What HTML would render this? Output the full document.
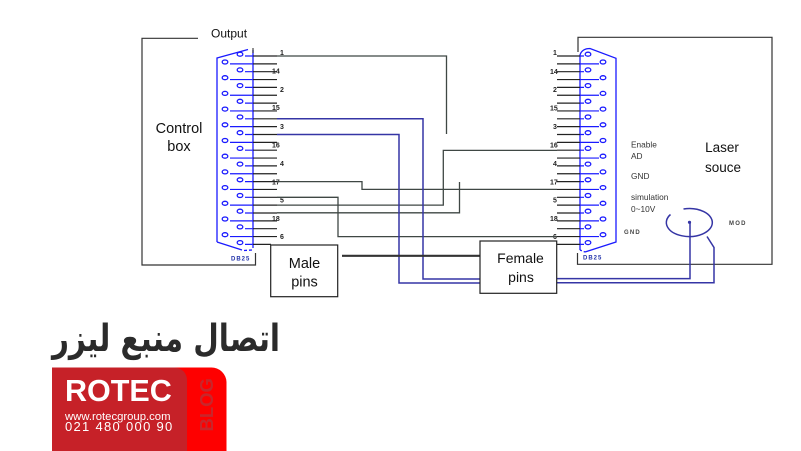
<!DOCTYPE html>
<html><head><meta charset="utf-8"><style>
html,body{margin:0;padding:0;background:#fff;}
body{width:801px;height:451px;position:relative;overflow:hidden;}
svg{position:absolute;left:0;top:0;}
.t{position:absolute;font-family:"DejaVu Sans",sans-serif;font-weight:bold;color:#2b2b2b;direction:rtl;white-space:nowrap;transform-origin:100% 0;}
</style></head><body>
<svg width="801" height="451" viewBox="0 0 801 451" xmlns="http://www.w3.org/2000/svg" font-family="Liberation Sans, sans-serif">
<rect width="801" height="451" fill="#fff"/>
<!-- control box -->
<path d="M198,38.3 L142,38.3 L142,265 L255.5,265 L255.5,253" fill="none" stroke="#333" stroke-width="1.2"/>
<text x="211" y="37.5" font-size="12" fill="#111">Output</text>
<text x="179" y="133" font-size="14.5" fill="#111" text-anchor="middle">Control</text>
<text x="179" y="151" font-size="14.5" fill="#111" text-anchor="middle">box</text>
<!-- laser box -->
<path d="M578,52 L578,37.3 L772,37.3 L772,264.3 L577.5,264.3 L577.5,253" fill="none" stroke="#333" stroke-width="1.2"/>
<text x="722" y="152" font-size="13.5" fill="#111" text-anchor="middle">Laser</text>
<text x="723" y="172" font-size="13.5" fill="#111" text-anchor="middle">souce</text>
<g font-size="8.3" fill="#333">
<text x="631" y="147.5">Enable</text>
<text x="631" y="159">AD</text>
<text x="631" y="179">GND</text>
<text x="631" y="200">simulation</text>
<text x="631" y="212">0~10V</text>
</g>
<g font-size="6" font-weight="bold" fill="#444" letter-spacing="1.2">
<text x="624" y="234">GND</text>
<text x="729" y="225">MOD</text>
</g>

<!-- left connector -->
<g fill="none" stroke="#1a1aff" stroke-width="1.3">
<path d="M217,242 L217,58 L248,49.5"/>
<path d="M253,50 L253,248"/>
<path d="M217,242 L242,250"/>
<path d="M244,250.5 L252,250" stroke-dasharray="3,2"/>
</g>
<line x1="253" y1="48" x2="253" y2="53" stroke="#222" stroke-width="1"/>
<!-- right connector -->
<g fill="none" stroke="#1a1aff" stroke-width="1.3">
<path d="M580,250 L580,55 Q582,48.5 590,48.5 L616,58.3 L616,242 L585,252"/>
<path d="M580,250 L585,252" stroke-dasharray="2,2"/>
</g>

<!-- connector pin rows -->
<g stroke-width="1.2" fill="none">
<g stroke="#1a1aff">
<path d="M245,56 H253 M230,63.85 H253 M245,71.7 H253 M230,79.55 H253 M245,87.4 H253 M230,95.25 H253 M245,103.1 H253 M230,110.95 H253 M245,118.8 H253 M230,126.65 H253 M245,134.5 H253 M230,142.35 H253 M245,150.2 H253 M230,158.05 H253 M245,165.9 H253 M230,173.75 H253 M245,181.6 H253 M230,189.45 H253 M245,197.3 H253 M230,205.15 H253 M245,213 H253 M230,220.85 H253 M245,228.7 H253 M230,236.55 H253 M245,244.4 H253"/>
<path d="M580,56 H584 M580,63.85 H599 M580,71.7 H584 M580,79.55 H599 M580,87.4 H584 M580,95.25 H599 M580,103.1 H584 M580,110.95 H599 M580,118.8 H584 M580,126.65 H599 M580,134.5 H584 M580,142.35 H599 M580,150.2 H584 M580,158.05 H599 M580,165.9 H584 M580,173.75 H599 M580,181.6 H584 M580,189.45 H599 M580,197.3 H584 M580,205.15 H599 M580,213 H584 M580,220.85 H599 M580,228.7 H584 M580,236.55 H599 M580,244.4 H584"/>
</g>
<g stroke="#222">
<path d="M253,56 H277 M253,63.85 H277 M253,71.7 H277 M253,79.55 H277 M253,87.4 H277 M253,95.25 H277 M253,103.1 H277 M253,110.95 H277 M253,118.8 H277 M253,126.65 H277 M253,134.5 H277 M253,142.35 H277 M253,150.2 H277 M253,158.05 H277 M253,165.9 H277 M253,173.75 H277 M253,181.6 H277 M253,189.45 H277 M253,197.3 H277 M253,205.15 H277 M253,213 H277 M253,220.85 H277 M253,228.7 H277 M253,236.55 H277 M253,244.4 H271"/>
<path d="M557,56 H580 M557,63.85 H580 M557,71.7 H580 M557,79.55 H580 M557,87.4 H580 M557,95.25 H580 M557,103.1 H580 M557,110.95 H580 M557,118.8 H580 M557,126.65 H580 M557,134.5 H580 M557,142.35 H580 M557,150.2 H580 M557,158.05 H580 M557,165.9 H580 M557,173.75 H580 M557,181.6 H580 M557,189.45 H580 M557,197.3 H580 M557,205.15 H580 M557,213 H580 M557,220.85 H580 M557,228.7 H580 M557,236.55 H580 M557,244.4 H580"/>
</g>
</g>
<!-- circles -->
<g fill="none" stroke="#1a1aff" stroke-width="1.3">
<ellipse cx="240" cy="54.2" rx="2.8" ry="2"/><ellipse cx="225" cy="62" rx="2.8" ry="2"/>
<ellipse cx="240" cy="69.9" rx="2.8" ry="2"/><ellipse cx="225" cy="77.7" rx="2.8" ry="2"/>
<ellipse cx="240" cy="85.6" rx="2.8" ry="2"/><ellipse cx="225" cy="93.4" rx="2.8" ry="2"/>
<ellipse cx="240" cy="101.3" rx="2.8" ry="2"/><ellipse cx="225" cy="109.1" rx="2.8" ry="2"/>
<ellipse cx="240" cy="117" rx="2.8" ry="2"/><ellipse cx="225" cy="124.8" rx="2.8" ry="2"/>
<ellipse cx="240" cy="132.7" rx="2.8" ry="2"/><ellipse cx="225" cy="140.5" rx="2.8" ry="2"/>
<ellipse cx="240" cy="148.4" rx="2.8" ry="2"/><ellipse cx="225" cy="156.2" rx="2.8" ry="2"/>
<ellipse cx="240" cy="164.1" rx="2.8" ry="2"/><ellipse cx="225" cy="171.9" rx="2.8" ry="2"/>
<ellipse cx="240" cy="179.8" rx="2.8" ry="2"/><ellipse cx="225" cy="187.6" rx="2.8" ry="2"/>
<ellipse cx="240" cy="195.5" rx="2.8" ry="2"/><ellipse cx="225" cy="203.3" rx="2.8" ry="2"/>
<ellipse cx="240" cy="211.2" rx="2.8" ry="2"/><ellipse cx="225" cy="219" rx="2.8" ry="2"/>
<ellipse cx="240" cy="226.9" rx="2.8" ry="2"/><ellipse cx="225" cy="234.7" rx="2.8" ry="2"/>
<ellipse cx="240" cy="242.6" rx="2.8" ry="2"/>

<ellipse cx="588" cy="54.2" rx="2.8" ry="2"/><ellipse cx="603" cy="62" rx="2.8" ry="2"/>
<ellipse cx="588" cy="69.9" rx="2.8" ry="2"/><ellipse cx="603" cy="77.7" rx="2.8" ry="2"/>
<ellipse cx="588" cy="85.6" rx="2.8" ry="2"/><ellipse cx="603" cy="93.4" rx="2.8" ry="2"/>
<ellipse cx="588" cy="101.3" rx="2.8" ry="2"/><ellipse cx="603" cy="109.1" rx="2.8" ry="2"/>
<ellipse cx="588" cy="117" rx="2.8" ry="2"/><ellipse cx="603" cy="124.8" rx="2.8" ry="2"/>
<ellipse cx="588" cy="132.7" rx="2.8" ry="2"/><ellipse cx="603" cy="140.5" rx="2.8" ry="2"/>
<ellipse cx="588" cy="148.4" rx="2.8" ry="2"/><ellipse cx="603" cy="156.2" rx="2.8" ry="2"/>
<ellipse cx="588" cy="164.1" rx="2.8" ry="2"/><ellipse cx="603" cy="171.9" rx="2.8" ry="2"/>
<ellipse cx="588" cy="179.8" rx="2.8" ry="2"/><ellipse cx="603" cy="187.6" rx="2.8" ry="2"/>
<ellipse cx="588" cy="195.5" rx="2.8" ry="2"/><ellipse cx="603" cy="203.3" rx="2.8" ry="2"/>
<ellipse cx="588" cy="211.2" rx="2.8" ry="2"/><ellipse cx="603" cy="219" rx="2.8" ry="2"/>
<ellipse cx="588" cy="226.9" rx="2.8" ry="2"/><ellipse cx="603" cy="234.7" rx="2.8" ry="2"/>
<ellipse cx="588" cy="242.6" rx="2.8" ry="2"/>
</g>

<!-- pin labels -->
<g font-size="7" font-weight="bold" fill="#222">
<text x="280" y="55">1</text><text x="272" y="73.5">14</text><text x="280" y="92">2</text>
<text x="272" y="110">15</text><text x="280" y="129">3</text><text x="272" y="147.5">16</text>
<text x="280" y="166">4</text><text x="272" y="184.5">17</text><text x="280" y="202.5">5</text>
<text x="272" y="221">18</text><text x="280" y="239">6</text>

<text x="553" y="55">1</text><text x="550" y="74">14</text><text x="553" y="92">2</text>
<text x="550" y="110.5">15</text><text x="553" y="129">3</text><text x="550" y="147.5">16</text>
<text x="553" y="166">4</text><text x="550" y="184.5">17</text><text x="553" y="202.5">5</text>
<text x="550" y="221">18</text><text x="553" y="239">6</text>
</g>
<g font-size="6" font-weight="bold" fill="#2233aa" letter-spacing="1">
<text x="231" y="260.5">DB25</text>
<text x="583" y="259.5">DB25</text>
</g>

<!-- black wires -->
<g fill="none" stroke="#3f4744" stroke-width="1.3">
<path d="M277,56 H446.5 V134"/>
<path d="M277,181.6 H362 V189.4 H557"/>
<path d="M277,197.3 H338 V236.6 H557"/>
<path d="M277,205.1 H443.3 V150.4 H557"/>
<path d="M277,212.8 H459.5 V182"/>
</g>
<!-- blue wires -->
<g fill="none" stroke="#3535a5" stroke-width="1.5">
<path d="M277,118.8 H423 V279 H480"/>
<path d="M277,134.5 H399 V283 H480"/>
<path d="M557,278.6 H690 V222.5"/>
<path d="M557,282.8 H714 V247.5 L707,236.5"/>
<path d="M683.5,209 A23,14 0 1,1 670.5,214.5"/>
</g>
<circle cx="689.5" cy="222.3" r="1.6" fill="#3535a5"/>

<!-- male / female -->
<line x1="342" y1="255.8" x2="480" y2="255.8" stroke="#333" stroke-width="2.2"/>
<rect x="270.7" y="245" width="67" height="51.7" fill="#fff" stroke="#222" stroke-width="1.2"/>
<text x="304.5" y="268" font-size="14.5" fill="#111" text-anchor="middle">Male</text>
<text x="304.5" y="286.5" font-size="14.5" fill="#111" text-anchor="middle">pins</text>
<rect x="480" y="241" width="76.7" height="52.3" fill="#fff" stroke="#222" stroke-width="1.2"/>
<text x="520.5" y="263" font-size="14" fill="#111" text-anchor="middle">Female</text>
<text x="521" y="282" font-size="14" fill="#111" text-anchor="middle">pins</text>

<!-- logo -->
<path d="M52,367.5 H211 A15,15 0 0 1 226.5,382.5 V451 H52 Z" fill="#fe0000"/>
<path d="M52,367.5 H174.5 A12.5,12.5 0 0 1 187,380 V451 H52 Z" fill="#c62128"/>
<text x="65" y="401" font-size="30.5" font-weight="bold" fill="#fff">ROTEC</text>
<text x="65" y="420" font-size="11.3" fill="#fff">www.rotecgroup.com</text>
<text x="65" y="431" font-size="13" fill="#fff" letter-spacing="1.3">021 480 000 90</text>
<text transform="translate(213,431.5) rotate(-90)" font-size="18.5" font-weight="bold" fill="#c8262b">BLOG</text>
</svg>
<div class="t" style="left:40px;top:310px;width:240px;text-align:right;font-size:31px;line-height:48px;transform:scale(0.95,1.2);">اتصال منبع لیزر</div>
</body></html>
